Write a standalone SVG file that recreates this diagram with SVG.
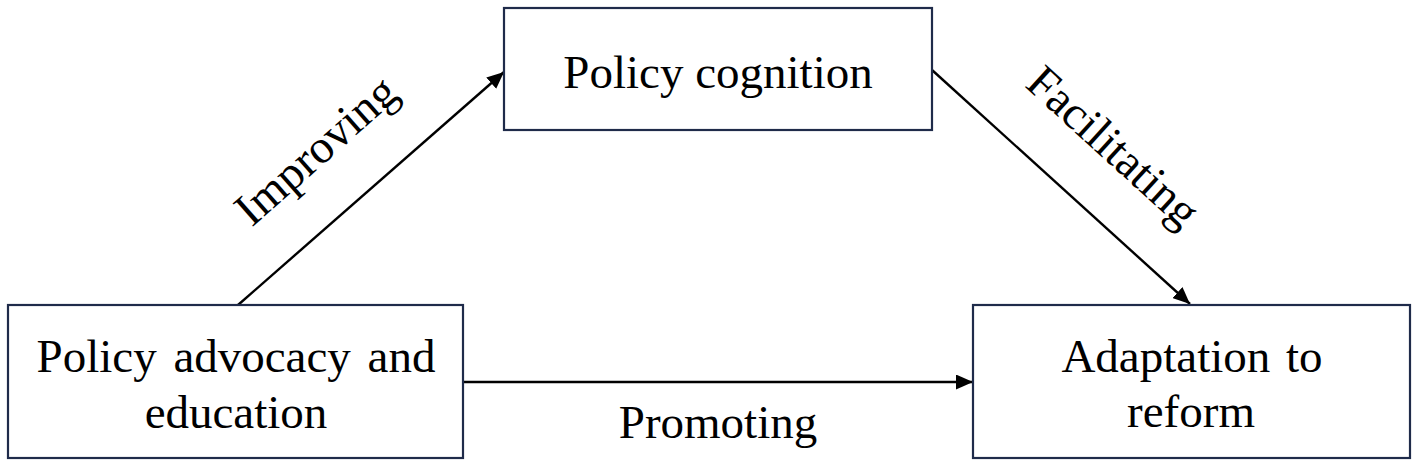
<svg xmlns="http://www.w3.org/2000/svg" width="1418" height="467" viewBox="0 0 1418 467">
<style>
.box{fill:#fff;stroke:#1f2b4a;stroke-width:2.2}
.t{font-family:"Liberation Serif","Times New Roman",serif;font-size:47px;fill:#000;text-anchor:middle}
.c{stroke:#000;stroke-width:2.4;fill:none}
</style>
<defs>
<marker id="ah" markerUnits="userSpaceOnUse" markerWidth="17" markerHeight="15" refX="17" refY="7.5" orient="auto">
<path d="M0,0 L17,7.5 L0,15 Z" fill="#000"/>
</marker>
</defs>
<rect width="1418" height="467" fill="#fff"/>
<g id="connectors">
<line class="c" x1="238" y1="305" x2="504" y2="72" marker-end="url(#ah)"/>
<line class="c" x1="932" y1="70" x2="1190" y2="304" marker-end="url(#ah)"/>
<line class="c" x1="463" y1="382" x2="973" y2="382" marker-end="url(#ah)"/>
<text class="t" transform="translate(326,162) rotate(-41.5)">Improving</text>
<text class="t" transform="translate(1103,158) rotate(42.3)">Facilitating</text>
<text class="t" x="718" y="438">Promoting</text>
</g>
<g id="policy-cognition">
<rect class="box" x="504" y="8" width="428" height="122"/>
<text class="t" x="718" y="88">Policy cognition</text>
</g>
<g id="policy-advocacy">
<rect class="box" x="8" y="305" width="455" height="153"/>
<text class="t" x="236" y="372" word-spacing="5">Policy advocacy and</text>
<text class="t" x="236" y="428">education</text>
</g>
<g id="adaptation">
<rect class="box" x="973" y="305" width="437" height="153"/>
<text class="t" x="1192" y="372" word-spacing="4">Adaptation to</text>
<text class="t" x="1191" y="427">reform</text>
</g>
</svg>
